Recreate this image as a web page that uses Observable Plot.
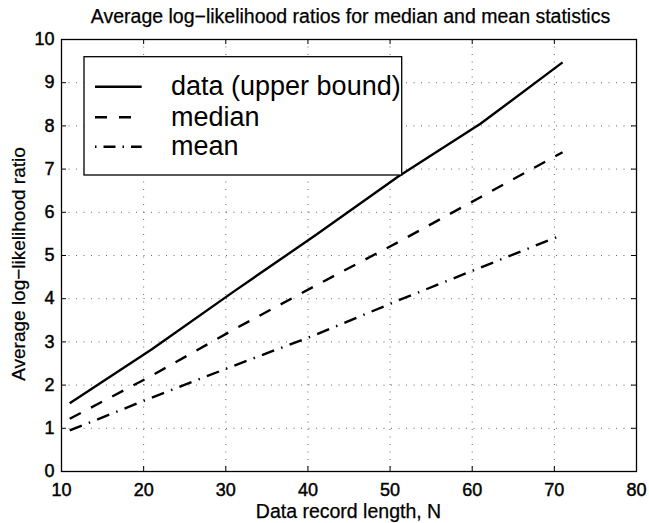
<!DOCTYPE html>
<html>
<head>
<meta charset="utf-8">
<script src="https://cdn.jsdelivr.net/npm/d3@7"></script>
<script src="https://cdn.jsdelivr.net/npm/@observablehq/plot@0.6"></script>
<style>
  html, body { margin: 0; padding: 0; background: #fff; }
  #chart svg { display: block; }
  #chart g[aria-label="x-axis tick label"] text,
  #chart g[aria-label="y-axis tick label"] text { stroke: #000; stroke-width: 0.45px; }
</style>
</head>
<body>
<div id="chart"></div>
<script>
// ---- data ----
const N = [11, 21, 31, 41, 51, 61, 71];
const upperBound = [1.58, 2.83, 4.17, 5.48, 6.83, 8.05, 9.47];
const medianStat = [1.22, 2.22, 3.29, 4.31, 5.31, 6.35, 7.39];
const meanStat   = [0.95, 1.71, 2.45, 3.17, 3.96, 4.72, 5.48];

const xTicks = [10, 20, 30, 40, 50, 60, 70, 80];
const yTicks = [0, 1, 2, 3, 4, 5, 6, 7, 8, 9, 10];

const seriesNames = ["data (upper bound)", "median", "mean"];
const titleText = "Average log\u2212likelihood ratios for median and mean statistics";
const xLabelText = "Data record length, N";
const yLabelText = "Average log\u2212likelihood ratio";

// ---- styles ----
const FONT = "'Liberation Sans', Arial, Helvetica, sans-serif";
const dashes = ["none", "12.5,11.5", "13,7.5,1.5,7.5"];
const legendDashes = ["none", "12,12", "1.5,7,12,7"];
const LW = 2.4;

const rows = (vals) => N.map((n, i) => ({N: n, v: vals[i]}));
const seriesData = [rows(upperBound), rows(medianStat), rows(meanStat)];

const W = 649, H = 523;
const mL = 61, mR = 13, mT = 39, mB = 52;
const frameH = H - mT - mB, frameW = W - mL - mR;
const tickLen = 5;

const chart = Plot.plot({
  width: W,
  height: H,
  marginLeft: mL,
  marginRight: mR,
  marginTop: mT,
  marginBottom: mB,
  style: {fontFamily: FONT, fontSize: "18px", color: "#000", background: "#fff"},
  x: {domain: [10, 80]},
  y: {domain: [0, 10]},
  marks: [
    // dotted grid
    Plot.ruleX(xTicks.slice(1, -1), {x: d => d, stroke: "#000", strokeOpacity: 0.6, strokeWidth: 1, strokeDasharray: "1,6.5"}),
    Plot.ruleY(yTicks.slice(1, -1), {y: d => d, stroke: "#000", strokeOpacity: 0.6, strokeWidth: 1, strokeDasharray: "1,6.5"}),
    // inward tick marks on all four sides
    Plot.ruleX(xTicks, {x: d => d, insetTop: frameH - tickLen, stroke: "#000", strokeWidth: 1}),
    Plot.ruleX(xTicks, {x: d => d, insetBottom: frameH - tickLen, stroke: "#000", strokeWidth: 1}),
    Plot.ruleY(yTicks, {y: d => d, insetRight: frameW - tickLen, stroke: "#000", strokeWidth: 1}),
    Plot.ruleY(yTicks, {y: d => d, insetLeft: frameW - tickLen, stroke: "#000", strokeWidth: 1}),
    // series
    ...seriesData.map((d, i) => Plot.line(d, {
      x: "N", y: "v", stroke: "#000", strokeWidth: LW,
      strokeDasharray: dashes[i], strokeLinecap: "butt", strokeLinejoin: "round"
    })),
    Plot.frame({stroke: "#000", strokeWidth: 1.3}),
    Plot.axisX({ticks: xTicks, tickSize: 0, tickPadding: 12, label: null, tickFormat: d => String(d)}),
    Plot.axisY({ticks: yTicks, tickSize: 0, tickPadding: 7, label: null, tickFormat: d => String(d)})
  ]
});

document.getElementById("chart").appendChild(chart);

// ---- titles, axis labels and legend (real text) ----
const svg = d3.select(chart);
const xs = chart.scale("x");
const cx = (xs.apply(10) + xs.apply(80)) / 2;

svg.append("text")
  .attr("x", cx + 2).attr("y", 22.7)
  .attr("text-anchor", "middle")
  .style("font-family", FONT).style("font-size", "19.5px")
  .attr("fill", "#000").attr("stroke", "#000").attr("stroke-width", 0.25)
  .text(titleText);

svg.append("text")
  .attr("x", cx).attr("y", 518)
  .attr("text-anchor", "middle")
  .style("font-family", FONT).style("font-size", "19.5px")
  .attr("fill", "#000").attr("stroke", "#000").attr("stroke-width", 0.25)
  .text(xLabelText);

svg.append("text")
  .attr("transform", "translate(25,264) rotate(-90)")
  .attr("text-anchor", "middle")
  .style("font-family", FONT).style("font-size", "19px")
  .attr("fill", "#000").attr("stroke", "#000").attr("stroke-width", 0.25)
  .text(yLabelText);

// legend box
const lg = svg.append("g");
lg.append("rect")
  .attr("x", 84).attr("y", 56.7)
  .attr("width", 401.7 - 84).attr("height", 175 - 56.7)
  .attr("fill", "#fff").attr("stroke", "#000").attr("stroke-width", 1.3);

const lineY = [86.7, 117.3, 146.7];
const textY = [95, 126, 154.5];
seriesNames.forEach((name, i) => {
  lg.append("line")
    .attr("x1", 95).attr("x2", 141.7)
    .attr("y1", lineY[i]).attr("y2", lineY[i])
    .attr("stroke", "#000").attr("stroke-width", LW)
    .attr("stroke-dasharray", legendDashes[i]);
  lg.append("text")
    .attr("x", 171).attr("y", textY[i])
    .attr("text-anchor", "start")
    .style("font-family", FONT).style("font-size", "27px")
    .attr("fill", "#000")
    .text(name);
});
</script>
</body>
</html>
